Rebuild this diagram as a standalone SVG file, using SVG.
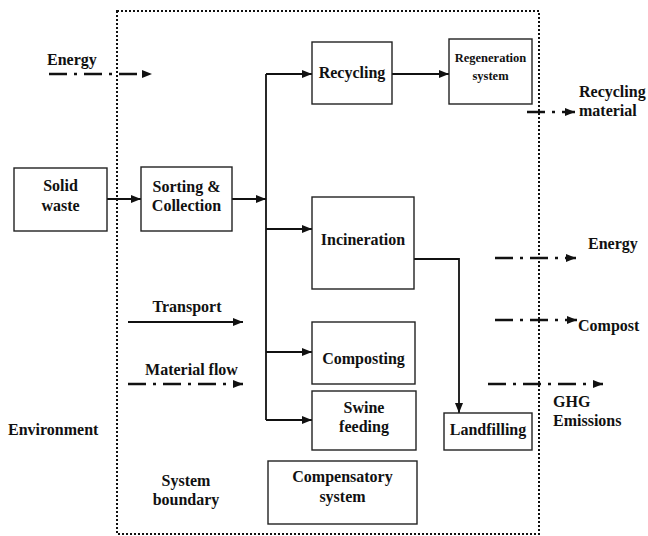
<svg xmlns="http://www.w3.org/2000/svg" width="648" height="536" viewBox="0 0 648 536">
<style>
text{font-family:"Liberation Serif","Times New Roman",serif;font-weight:bold;font-size:16px;fill:#111}
.c{text-anchor:middle}
.small{font-size:12.5px}
.box{fill:#fff;stroke:#222;stroke-width:1.4}
.ln{fill:none;stroke:#111;stroke-width:1.8}
.dd{fill:none;stroke:#111;stroke-width:2.6;stroke-dasharray:18 7 3 7}
.bd{fill:none;stroke:#111;stroke-width:2;stroke-dasharray:2 2}
</style>
<defs>
<marker id="ah" markerUnits="userSpaceOnUse" markerWidth="11" markerHeight="10" refX="10" refY="4" orient="auto">
<path d="M0,0 L10,4 L0,8 z" fill="#111"/>
</marker>
</defs>
<rect width="648" height="536" fill="#fff"/>
<g id="boundary">
<rect class="bd" x="117" y="11" width="422" height="523"/>
</g>
<g id="connectors">
<path class="ln" d="M107,199 L141,199" marker-end="url(#ah)"/>
<path class="ln" d="M232,199 L266,199" marker-end="url(#ah)"/>
<path class="ln" d="M266,74 L266,420"/>
<path class="ln" d="M266,74 L312,74" marker-end="url(#ah)"/>
<path class="ln" d="M266,229 L312,229" marker-end="url(#ah)"/>
<path class="ln" d="M266,352 L312,352" marker-end="url(#ah)"/>
<path class="ln" d="M266,420 L312,420" marker-end="url(#ah)"/>
<path class="ln" d="M392,74 L449,74" marker-end="url(#ah)"/>
<path class="ln" d="M414,259 L459,259 L459,413" marker-end="url(#ah)"/>
<path class="ln" d="M128,322 L243,322" marker-end="url(#ah)"/>
<path class="dd" d="M49,74 L152,74" marker-end="url(#ah)"/>
<path class="dd" d="M128,384 L243,384" marker-end="url(#ah)"/>
<path class="dd" d="M527,112 L575,112" marker-end="url(#ah)"/>
<path class="dd" d="M495,258 L576,258" marker-end="url(#ah)"/>
<path class="dd" d="M495,320 L577,320" marker-end="url(#ah)"/>
<path class="dd" d="M488,384 L603,384" marker-end="url(#ah)"/>
</g>
<g id="solid-waste">
<rect class="box" x="14" y="168" width="93" height="63"/>
<text class="c" x="60.5" y="191">Solid</text>
<text class="c" x="60.5" y="211">waste</text>
</g>
<g id="sorting">
<rect class="box" x="141" y="167" width="91" height="64"/>
<text class="c" x="186.5" y="192">Sorting &amp;</text>
<text class="c" x="186.5" y="211">Collection</text>
</g>
<g id="recycling">
<rect class="box" x="312" y="42" width="80" height="62"/>
<text class="c" x="352" y="78">Recycling</text>
</g>
<g id="regeneration">
<rect class="box" x="449" y="39" width="83" height="65"/>
<text class="c small" x="490.5" y="62">Regeneration</text>
<text class="c small" x="490.5" y="80">system</text>
</g>
<g id="incineration">
<rect class="box" x="312" y="197" width="102" height="92"/>
<text class="c" x="363" y="245">Incineration</text>
</g>
<g id="composting">
<rect class="box" x="312" y="322" width="103" height="62"/>
<text class="c" x="363.5" y="364">Composting</text>
</g>
<g id="swine">
<rect class="box" x="312" y="391" width="104" height="59"/>
<text class="c" x="364" y="413">Swine</text>
<text class="c" x="364" y="432">feeding</text>
</g>
<g id="compensatory">
<rect class="box" x="268" y="461" width="149" height="63"/>
<text class="c" x="342.5" y="482">Compensatory</text>
<text class="c" x="342.5" y="502">system</text>
</g>
<g id="landfilling">
<rect class="box" x="444" y="413" width="88" height="37"/>
<text class="c" x="488" y="435">Landfilling</text>
</g>
<g id="labels">
<text x="47" y="65">Energy</text>
<text x="579" y="97">Recycling</text>
<text x="579" y="116">material</text>
<text x="588" y="249">Energy</text>
<text x="578" y="331">Compost</text>
<text x="553" y="407">GHG</text>
<text x="553" y="426">Emissions</text>
<text class="c" x="187" y="312">Transport</text>
<text class="c" x="191.5" y="375">Material flow</text>
<text x="8" y="435">Environment</text>
<text class="c" x="186" y="486">System</text>
<text class="c" x="186" y="505">boundary</text>
</g>
</svg>
